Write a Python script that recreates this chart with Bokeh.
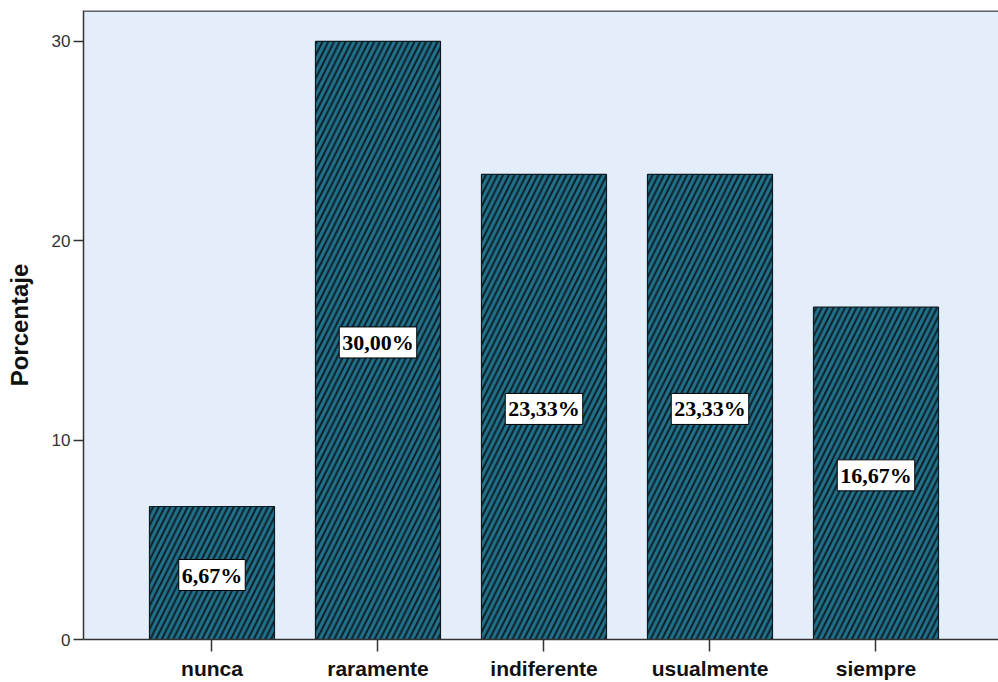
from bokeh.plotting import figure
from bokeh.models import ColumnDataSource, FixedTicker, Span, Range1d
from bokeh.core.properties import value
from bokeh.embed import file_html
from bokeh.resources import INLINE

# Frequency distribution of answers (percent of respondents)
categories = ["nunca", "raramente", "indiferente", "usualmente", "siempre"]
percentages = [6.67, 30.00, 23.33, 23.33, 16.67]
y_ticks = [0, 10, 20, 30]

xs = list(range(len(categories)))
labels = [f"{v:.2f}".replace(".", ",") + "%" for v in percentages]
mids = [v / 2 for v in percentages]

source = ColumnDataSource(dict(x=xs, top=percentages, mid=mids, label=labels))

p = figure(
    width=998, height=682,
    x_range=Range1d(-0.774, 4.738), y_range=Range1d(0, 31.55),
    output_backend="svg", toolbar_location=None,
    min_border_left=83, min_border_right=0, min_border_top=10, min_border_bottom=41,
)
p.border_fill_color = "#ffffff"
p.outline_line_color = None
p.xgrid.visible = False
p.ygrid.visible = False
# light blue plotting area
p.background_fill_color = "#e3eefa"

p.vbar(
    x="x", top="top", width=0.753, source=source,
    fill_color="#22718b", line_color="#0d1a20", line_width=1.2,
    hatch_pattern="right_diagonal_line", hatch_color="#0c1f28",
    hatch_scale=11.5, hatch_weight=2,
)

p.text(
    x="x", y="mid", text="label", source=source,
    text_font=value("Liberation Serif"), text_font_style="bold",
    text_font_size="22px", text_color="#000000",
    text_align="center", text_baseline="middle",
    background_fill_color="#ffffff", border_line_color="#000000",
    border_line_width=1, padding=3, y_offset=2,
)

# dark border along the top of the plotting area
p.add_layout(Span(location=31.55, dimension="width",
                  line_color="#5e6469", line_width=3))

# x axis
p.xaxis.ticker = FixedTicker(ticks=xs)
p.xaxis.major_label_overrides = {i: c for i, c in enumerate(categories)}
p.xaxis.major_label_text_font = "Liberation Sans"
p.xaxis.major_label_text_font_style = "bold"
p.xaxis.major_label_text_font_size = "21px"
p.xaxis.major_label_text_color = "#111111"
p.xaxis.major_label_standoff = 5
p.xaxis.axis_line_color = "#333333"
p.xaxis.axis_line_width = 1.5
p.xaxis.major_tick_line_color = "#333333"
p.xaxis.major_tick_line_width = 1.5
p.xaxis.major_tick_out = 12
p.xaxis.major_tick_in = 0
p.xaxis.minor_tick_line_color = None

# y axis
p.yaxis.ticker = FixedTicker(ticks=y_ticks)
p.yaxis.axis_label = "Porcentaje"
p.yaxis.axis_label_text_font = "Liberation Sans"
p.yaxis.axis_label_text_font_style = "bold"
p.yaxis.axis_label_text_font_size = "24px"
p.yaxis.axis_label_text_color = "#111111"
p.yaxis.axis_label_standoff = 16
p.yaxis.major_label_text_font = "Liberation Sans"
p.yaxis.major_label_text_font_size = "17px"
p.yaxis.major_label_text_color = "#333333"
p.yaxis.major_label_standoff = 3
p.yaxis.axis_line_color = "#333333"
p.yaxis.axis_line_width = 1.5
p.yaxis.major_tick_line_color = "#333333"
p.yaxis.major_tick_line_width = 1.5
p.yaxis.major_tick_out = 10
p.yaxis.major_tick_in = 0
p.yaxis.minor_tick_line_color = None

open("out.html", "w").write(file_html(p, INLINE))
